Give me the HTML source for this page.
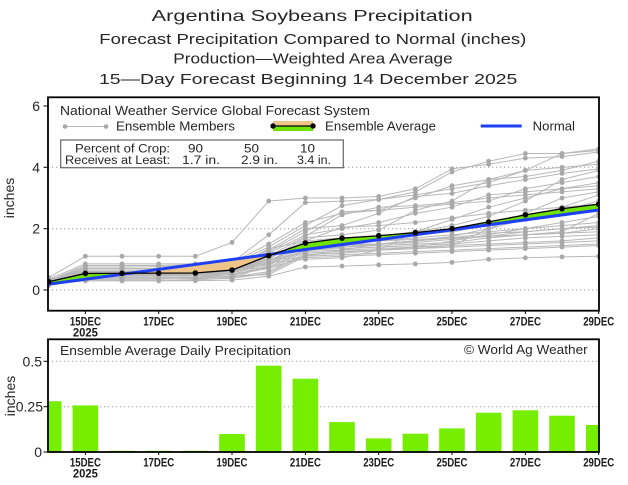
<!DOCTYPE html>
<html><head><meta charset="utf-8"><style>
html,body{margin:0;padding:0;background:#fff;}
svg{display:block;font-family:"Liberation Sans",sans-serif;}
</style></head><body>
<svg width="628" height="485" viewBox="0 0 628 485" xmlns="http://www.w3.org/2000/svg">
<defs>
<clipPath id="ct"><rect x="48" y="97" width="551" height="214"/></clipPath>
<clipPath id="cb"><rect x="48" y="339" width="551" height="113"/></clipPath>
<marker id="gd" markerUnits="userSpaceOnUse" markerWidth="1" markerHeight="1" refX="0" refY="0" overflow="visible"><ellipse cx="0" cy="0" rx="0.066" ry="0.079" fill="#a9a9a9"/></marker>
<marker id="bd" markerUnits="userSpaceOnUse" markerWidth="1" markerHeight="1" refX="0" refY="0" overflow="visible"><ellipse cx="0" cy="0" rx="0.076" ry="0.091" fill="#000"/></marker>
</defs>
<rect width="628" height="485" fill="#fff"/>

<g fill="#262626">
<text x="151.7" y="21" font-size="16" textLength="321" lengthAdjust="spacingAndGlyphs">Argentina Soybeans Precipitation</text>
<text x="99.3" y="44" font-size="14.5" textLength="427" lengthAdjust="spacingAndGlyphs">Forecast Precipitation Compared to Normal (inches)</text>
<text x="173.3" y="63.5" font-size="14.5" textLength="279.4" lengthAdjust="spacingAndGlyphs">Production—Weighted Area Average</text>
<text x="99" y="84" font-size="14.5" textLength="418.3" lengthAdjust="spacingAndGlyphs">15—Day Forecast Beginning 14 December 2025</text>
</g>

<g stroke="#9a9a9a" stroke-width="1" stroke-dasharray="1.2 2.8">
<line x1="48" y1="290" x2="599" y2="290"/>
<line x1="48" y1="228.7" x2="599" y2="228.7"/>
<line x1="48" y1="167.3" x2="599" y2="167.3"/>
</g>

<g clip-path="url(#ct)">
<g transform="translate(48.7 290) scale(36.667 -30.667)">
<g fill="none" stroke="#b8b8b8" stroke-width="1" marker-start="url(#gd)" marker-mid="url(#gd)" marker-end="url(#gd)">
<polyline vector-effect="non-scaling-stroke" points="0,0.4 1,1.1 2,1.1 3,1.1 4,1.1 5,1.55 6,2.9 7,3.0 8,3.0 9,3.05 10,3.3 11,3.95 12,4.1 13,4.3 14,4.35 15,4.5"/>
<polyline vector-effect="non-scaling-stroke" points="0,0.35 1,0.85 2,0.85 3,0.85 4,0.85 5,0.9 6,1.8 7,2.85 8,2.9 9,2.95 10,3.2 11,3.85 12,4.2 13,4.45 14,4.45 15,4.6"/>
<polyline vector-effect="non-scaling-stroke" points="0,0.3 1,0.8 2,0.8 3,0.8 4,0.82 5,0.9 6,1.5 7,2.2 8,2.5 9,2.6 10,3.0 11,3.4 12,3.6 13,3.7 14,3.9 15,4.2"/>
<polyline vector-effect="non-scaling-stroke" points="0,0.3 1,0.75 2,0.75 3,0.76 4,0.78 5,0.85 6,1.4 7,2.1 8,2.75 9,2.95 10,3.1 11,3.3 12,3.5 13,3.9 14,4.45 15,4.55"/>
<polyline vector-effect="non-scaling-stroke" points="0,0.25 1,0.7 2,0.7 3,0.7 4,0.72 5,0.8 6,1.3 7,2.0 8,2.1 9,2.5 10,3.05 11,3.15 12,3.4 13,3.6 14,3.8 15,3.95"/>
<polyline vector-effect="non-scaling-stroke" points="0,0.28 1,0.65 2,0.65 3,0.66 4,0.7 5,0.75 6,1.25 7,1.9 8,2.55 9,2.6 10,2.7 11,2.8 12,2.9 13,3.3 14,3.5 15,3.7"/>
<polyline vector-effect="non-scaling-stroke" points="0,0.22 1,0.6 2,0.6 3,0.6 4,0.62 5,0.7 6,1.2 7,1.8 8,2.0 9,2.2 10,2.5 11,2.7 12,3.1 13,3.2 14,3.3 15,3.5"/>
<polyline vector-effect="non-scaling-stroke" points="0,0.2 1,0.55 2,0.55 3,0.56 4,0.58 5,0.62 6,1.1 7,1.75 8,2.45 9,2.7 10,2.75 11,2.85 12,3.0 13,3.1 14,3.2 15,3.3"/>
<polyline vector-effect="non-scaling-stroke" points="0,0.25 1,0.5 2,0.5 3,0.5 4,0.52 5,0.6 6,1.0 7,1.7 8,1.8 9,1.95 10,2.6 11,2.9 12,3.6 13,3.9 14,4.0 15,4.1"/>
<polyline vector-effect="non-scaling-stroke" points="0,0.3 1,0.55 2,0.55 3,0.55 4,0.55 5,0.6 6,1.05 7,1.6 8,1.7 9,1.75 10,1.9 11,2.1 12,2.4 13,2.9 14,3.6 15,3.9"/>
<polyline vector-effect="non-scaling-stroke" points="0,0.18 1,0.45 2,0.45 3,0.46 4,0.5 5,0.55 6,0.95 7,1.55 8,1.6 9,1.7 10,1.8 11,1.9 12,2.1 13,2.4 14,2.6 15,2.9"/>
<polyline vector-effect="non-scaling-stroke" points="0,0.2 1,0.4 2,0.4 3,0.4 4,0.42 5,0.5 6,0.9 7,1.5 8,1.55 9,1.6 10,1.7 11,1.8 12,1.9 13,2.0 14,2.1 15,2.2"/>
<polyline vector-effect="non-scaling-stroke" points="0,0.15 1,0.35 2,0.35 3,0.35 4,0.38 5,0.45 6,0.85 7,1.45 8,1.5 9,1.5 10,1.6 11,1.75 12,2.0 13,2.3 14,2.7 15,3.1"/>
<polyline vector-effect="non-scaling-stroke" points="0,0.2 1,0.3 2,0.3 3,0.3 4,0.32 5,0.4 6,0.8 7,1.4 8,1.45 9,1.5 10,1.55 11,1.65 12,1.75 13,1.9 14,2.0 15,2.05"/>
<polyline vector-effect="non-scaling-stroke" points="0,0.25 1,0.45 2,0.46 3,0.48 4,0.5 5,0.55 6,1.15 7,1.35 8,1.4 9,1.45 10,1.5 11,1.55 12,1.7 13,1.8 14,1.85 15,1.9"/>
<polyline vector-effect="non-scaling-stroke" points="0,0.3 1,0.5 2,0.5 3,0.5 4,0.5 5,0.5 6,0.75 7,1.3 8,1.35 9,1.4 10,1.45 11,1.5 12,1.6 13,1.7 14,1.75 15,1.8"/>
<polyline vector-effect="non-scaling-stroke" points="0,0.35 1,0.6 2,0.6 3,0.62 4,0.65 5,0.7 6,0.7 7,1.25 8,1.3 9,1.35 10,1.4 11,1.45 12,1.5 13,1.55 14,1.6 15,1.7"/>
<polyline vector-effect="non-scaling-stroke" points="0,0.2 1,0.4 2,0.4 3,0.4 4,0.4 5,0.42 6,0.6 7,1.2 8,1.25 9,1.3 10,1.35 11,1.4 12,1.45 13,1.5 14,1.55 15,1.6"/>
<polyline vector-effect="non-scaling-stroke" points="0,0.15 1,0.35 2,0.35 3,0.36 4,0.36 5,0.38 6,0.55 7,1.15 8,1.2 9,1.3 10,1.4 11,1.6 12,1.8 13,2.0 14,2.2 15,2.4"/>
<polyline vector-effect="non-scaling-stroke" points="0,0.22 1,0.4 2,0.4 3,0.4 4,0.41 5,0.45 6,0.5 7,1.1 8,1.15 9,1.2 10,1.25 11,1.3 12,1.35 13,1.4 14,1.45 15,1.5"/>
<polyline vector-effect="non-scaling-stroke" points="0,0.3 1,0.5 2,0.52 3,0.54 4,0.56 5,0.6 6,1.0 7,1.05 8,1.1 9,1.15 10,1.2 11,1.25 12,1.3 13,1.35 14,1.4 15,1.45"/>
<polyline vector-effect="non-scaling-stroke" points="0,0.18 1,0.3 2,0.3 3,0.3 4,0.3 5,0.32 6,0.45 7,0.75 8,0.78 9,0.82 10,0.85 11,0.9 12,1.0 13,1.05 14,1.08 15,1.1"/>
<polyline vector-effect="non-scaling-stroke" points="0,0.28 1,0.5 2,0.5 3,0.51 4,0.52 5,0.55 6,0.9 7,1.0 8,1.05 9,1.3 10,1.9 11,2.3 12,2.7 13,3.0 14,3.3 15,3.4"/>
<polyline vector-effect="non-scaling-stroke" points="0,0.32 1,0.65 2,0.65 3,0.65 4,0.66 5,0.7 6,1.35 7,1.6 8,2.05 9,2.1 10,2.2 11,2.35 12,2.5 13,2.6 14,2.7 15,2.8"/>
<polyline vector-effect="non-scaling-stroke" points="0,0.25 1,0.6 2,0.6 3,0.6 4,0.6 5,0.65 6,0.85 7,1.3 8,1.4 9,1.5 10,1.6 11,1.7 12,1.85 13,1.9 14,2.0 15,2.1"/>
<polyline vector-effect="non-scaling-stroke" points="0,0.2 1,0.45 2,0.45 3,0.45 4,0.46 5,0.5 6,0.7 7,1.1 8,1.3 9,1.5 10,1.6 11,1.7 12,1.75 13,1.8 14,1.85 15,2.0"/>
<polyline vector-effect="non-scaling-stroke" points="0,0.3 1,0.7 2,0.7 3,0.7 4,0.7 5,0.75 6,1.0 7,1.2 8,1.25 9,1.3 10,1.35 11,1.45 12,2.0 13,2.5 14,3.0 15,3.2"/>
<polyline vector-effect="non-scaling-stroke" points="0,0.26 1,0.55 2,0.55 3,0.55 4,0.56 5,0.6 6,0.95 7,1.45 8,1.5 9,1.6 10,1.65 11,1.7 12,1.75 13,1.8 14,1.9 15,2.5"/>
</g>
<polygon fill="#6fe300" points="0,0.27 1,0.54 2,0.545 2.205,0.546 0,0.19"/>
<polygon fill="#efc488" points="2.205,0.546 3,0.55 4,0.555 5,0.65 6,1.12 6.153,1.183"/>
<polygon fill="#6fe300" points="6.153,1.183 7,1.53 8,1.69 9,1.77 10,1.87 11,2.0 12,2.22 13,2.45 14,2.65 15,2.80 15,2.61"/>
<line x1="0" y1="0.19" x2="15" y2="2.61" stroke="#1f3ff5" stroke-width="3" vector-effect="non-scaling-stroke"/>
<polyline fill="none" stroke="#000" stroke-width="1.3" vector-effect="non-scaling-stroke" marker-start="url(#bd)" marker-mid="url(#bd)" marker-end="url(#bd)" points="0,0.27 1,0.54 2,0.545 3,0.55 4,0.555 5,0.65 6,1.12 7,1.53 8,1.69 9,1.77 10,1.87 11,2.0 12,2.22 13,2.45 14,2.65 15,2.80"/>
</g>
</g>

<g fill="#262626" font-size="12.5">
<text x="60" y="115" textLength="310" lengthAdjust="spacingAndGlyphs">National Weather Service Global Forecast System</text>
<line x1="65" y1="126.5" x2="106" y2="126.5" stroke="#b8b8b8" stroke-width="1"/>
<circle cx="65" cy="126.5" r="2.3" fill="#a9a9a9"/>
<circle cx="106" cy="126.5" r="2.3" fill="#a9a9a9"/>
<text x="116" y="130.5" textLength="119" lengthAdjust="spacingAndGlyphs">Ensemble Members</text>
<rect x="273" y="121" width="40" height="5" fill="#efc488"/>
<rect x="273" y="126.5" width="40" height="4.5" fill="#6fe300"/>
<line x1="273" y1="126" x2="313" y2="126" stroke="#000" stroke-width="1.3"/>
<circle cx="273" cy="126" r="2.7" fill="#000"/>
<circle cx="313" cy="126" r="2.7" fill="#000"/>
<text x="325" y="130.5" textLength="111" lengthAdjust="spacingAndGlyphs">Ensemble Average</text>
<line x1="480.7" y1="126" x2="521.7" y2="126" stroke="#1f3ff5" stroke-width="3"/>
<text x="532.7" y="130.5" textLength="42.3" lengthAdjust="spacingAndGlyphs">Normal</text>
</g>
<rect x="60.7" y="140" width="282.6" height="27.7" fill="#fff" stroke="#666" stroke-width="1.2"/>
<g fill="#262626" font-size="11.5">
<text x="75" y="152.5" textLength="95" lengthAdjust="spacingAndGlyphs">Percent of Crop:</text>
<text x="188" y="152.5" textLength="15" lengthAdjust="spacingAndGlyphs">90</text>
<text x="244" y="152.5" textLength="15" lengthAdjust="spacingAndGlyphs">50</text>
<text x="300" y="152.5" textLength="15" lengthAdjust="spacingAndGlyphs">10</text>
<text x="65" y="164" textLength="105" lengthAdjust="spacingAndGlyphs">Receives at Least:</text>
<text x="182" y="164" textLength="38" lengthAdjust="spacingAndGlyphs">1.7 in.</text>
<text x="241" y="164" textLength="37" lengthAdjust="spacingAndGlyphs">2.9 in.</text>
<text x="297" y="164" textLength="34" lengthAdjust="spacingAndGlyphs">3.4 in.</text>
</g>

<rect x="48" y="97.3" width="551" height="213.4" fill="none" stroke="#000" stroke-width="1.8"/>
<g stroke="#000" stroke-width="1">
<line x1="43.5" y1="106" x2="48" y2="106"/>
<line x1="43.5" y1="167.3" x2="48" y2="167.3"/>
<line x1="43.5" y1="228.7" x2="48" y2="228.7"/>
<line x1="43.5" y1="290" x2="48" y2="290"/>
<line x1="85.4" y1="311" x2="85.4" y2="314"/>
<line x1="158.7" y1="311" x2="158.7" y2="314"/>
<line x1="232" y1="311" x2="232" y2="314"/>
<line x1="305.4" y1="311" x2="305.4" y2="314"/>
<line x1="378.7" y1="311" x2="378.7" y2="314"/>
<line x1="452" y1="311" x2="452" y2="314"/>
<line x1="525.4" y1="311" x2="525.4" y2="314"/>
<line x1="598.7" y1="311" x2="598.7" y2="314"/>
</g>
<g fill="#262626" font-size="14" text-anchor="end">
<text x="40" y="111">6</text>
<text x="40" y="172.3">4</text>
<text x="40" y="233.7">2</text>
<text x="40" y="295">0</text>
</g>
<text transform="translate(14 198) rotate(-90)" text-anchor="middle" font-size="14" fill="#262626">inches</text>
<g fill="#1a1a1a" font-size="11.5" font-weight="bold" text-anchor="middle">
<text x="85.4" y="325.5" textLength="31" lengthAdjust="spacingAndGlyphs">15DEC</text>
<text x="85.4" y="336.5" textLength="25" lengthAdjust="spacingAndGlyphs">2025</text>
<text x="158.7" y="325.5" textLength="31" lengthAdjust="spacingAndGlyphs">17DEC</text>
<text x="232" y="325.5" textLength="31" lengthAdjust="spacingAndGlyphs">19DEC</text>
<text x="305.4" y="325.5" textLength="31" lengthAdjust="spacingAndGlyphs">21DEC</text>
<text x="378.7" y="325.5" textLength="31" lengthAdjust="spacingAndGlyphs">23DEC</text>
<text x="452" y="325.5" textLength="31" lengthAdjust="spacingAndGlyphs">25DEC</text>
<text x="525.4" y="325.5" textLength="31" lengthAdjust="spacingAndGlyphs">27DEC</text>
<text x="598.7" y="325.5" textLength="31" lengthAdjust="spacingAndGlyphs">29DEC</text>
</g>

<g stroke="#9a9a9a" stroke-width="1" stroke-dasharray="1.2 2.8">
<line x1="48" y1="361.3" x2="599" y2="361.3"/>
<line x1="48" y1="406.7" x2="599" y2="406.7"/>
</g>
<g clip-path="url(#cb)" fill="#76ee00">
<rect x="35.9" y="401.2" width="25.6" height="50.8"/>
<rect x="72.6" y="405.4" width="25.6" height="46.6"/>
<rect x="109.2" y="450.8" width="25.6" height="1.2"/>
<rect x="145.9" y="450.8" width="25.6" height="1.2"/>
<rect x="182.6" y="450.8" width="25.6" height="1.2"/>
<rect x="219.2" y="434" width="25.6" height="18"/>
<rect x="255.9" y="365.7" width="25.6" height="86.3"/>
<rect x="292.6" y="378.7" width="25.6" height="73.3"/>
<rect x="329.2" y="422.1" width="25.6" height="29.9"/>
<rect x="365.9" y="438.4" width="25.6" height="13.6"/>
<rect x="402.6" y="433.7" width="25.6" height="18.3"/>
<rect x="439.2" y="428.4" width="25.6" height="23.6"/>
<rect x="475.9" y="412.7" width="25.6" height="39.3"/>
<rect x="512.6" y="410.3" width="25.6" height="41.7"/>
<rect x="549.2" y="415.7" width="25.6" height="36.3"/>
<rect x="585.9" y="425" width="25.6" height="27"/>
</g>
<rect x="48" y="339.3" width="551" height="112.7" fill="none" stroke="#000" stroke-width="1.8"/>
<g stroke="#000" stroke-width="1">
<line x1="43.5" y1="361.3" x2="48" y2="361.3"/>
<line x1="43.5" y1="406.7" x2="48" y2="406.7"/>
<line x1="43.5" y1="452" x2="48" y2="452"/>
<line x1="85.4" y1="452" x2="85.4" y2="455"/>
<line x1="158.7" y1="452" x2="158.7" y2="455"/>
<line x1="232" y1="452" x2="232" y2="455"/>
<line x1="305.4" y1="452" x2="305.4" y2="455"/>
<line x1="378.7" y1="452" x2="378.7" y2="455"/>
<line x1="452" y1="452" x2="452" y2="455"/>
<line x1="525.4" y1="452" x2="525.4" y2="455"/>
<line x1="598.7" y1="452" x2="598.7" y2="455"/>
</g>
<g fill="#262626" font-size="12.5">
<text x="60" y="355" textLength="231" lengthAdjust="spacingAndGlyphs">Ensemble Average Daily Precipitation</text>
<text x="464" y="354" textLength="123.7" lengthAdjust="spacingAndGlyphs">© World Ag Weather</text>
</g>
<g fill="#262626" font-size="14" text-anchor="end">
<text x="42" y="366.3">0.5</text>
<text x="43" y="411.7">0.25</text>
<text x="42" y="457">0</text>
</g>
<text transform="translate(15 396) rotate(-90)" text-anchor="middle" font-size="14" fill="#262626">inches</text>
<g fill="#1a1a1a" font-size="11.5" font-weight="bold" text-anchor="middle">
<text x="85.4" y="466.7" textLength="31" lengthAdjust="spacingAndGlyphs">15DEC</text>
<text x="85.4" y="477.7" textLength="25" lengthAdjust="spacingAndGlyphs">2025</text>
<text x="158.7" y="466.7" textLength="31" lengthAdjust="spacingAndGlyphs">17DEC</text>
<text x="232" y="466.7" textLength="31" lengthAdjust="spacingAndGlyphs">19DEC</text>
<text x="305.4" y="466.7" textLength="31" lengthAdjust="spacingAndGlyphs">21DEC</text>
<text x="378.7" y="466.7" textLength="31" lengthAdjust="spacingAndGlyphs">23DEC</text>
<text x="452" y="466.7" textLength="31" lengthAdjust="spacingAndGlyphs">25DEC</text>
<text x="525.4" y="466.7" textLength="31" lengthAdjust="spacingAndGlyphs">27DEC</text>
<text x="598.7" y="466.7" textLength="31" lengthAdjust="spacingAndGlyphs">29DEC</text>
</g>
</svg>
</body></html>
